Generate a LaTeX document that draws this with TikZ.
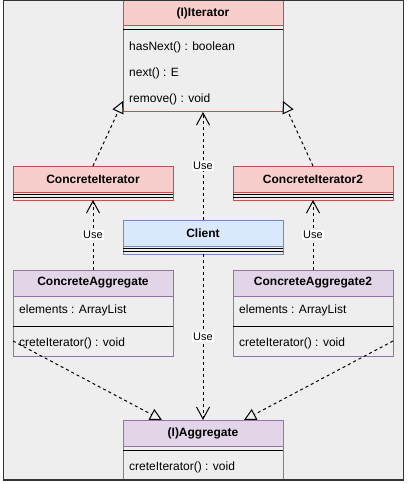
\documentclass[tikz,border=0pt]{standalone}
\usepackage{fontspec}
\setmainfont{Liberation Sans}
\usetikzlibrary{arrows.meta,calc}
\definecolor{bgG}{HTML}{EEEEEE}
\definecolor{frameC}{HTML}{333333}
\definecolor{redF}{HTML}{F8CECC}
\definecolor{redD}{HTML}{B85450}
\definecolor{bluF}{HTML}{DAE8FC}
\definecolor{bluD}{HTML}{6C8EBF}
\definecolor{purF}{HTML}{E1D5E7}
\definecolor{purD}{HTML}{9673A6}
\begin{document}
\begin{tikzpicture}[x=1pt,y=-1pt,
  cls/.style={rectangle, anchor=north west, inner sep=0pt, outer sep=0pt, minimum width=160pt, line width=1pt},
  hdr/.style={font=\fontsize{12}{14}\selectfont\bfseries},
  itm/.style={font=\fontsize{12}{14}\selectfont, anchor=west, inner sep=0pt},
  sepline/.style={black, line width=1pt},
  uselink/.style={line width=1pt, dash pattern=on 3pt off 3pt, -{Straight Barb[length=12pt,width=13pt]}},
  reallink/.style={line width=1pt, dash pattern=on 3pt off 3pt, -{Triangle[open,length=12pt,width=12pt]}},
  uselabel/.style={fill=white, inner sep=0.8pt, font=\fontsize{11}{13}\selectfont}]
\useasboundingbox (0,0) rectangle (408,484);
\fill[bgG] (3.5,0.5) rectangle (403.5,480);

% (I)Iterator
\node[cls, draw=redD, minimum height=112pt] (iter) at (123,0) {};
\node[cls, draw=redD, fill=redF, minimum height=26pt, hdr] (iterH) at (iter.north west) {(I)Iterator};
\draw[sepline] ($(iter.north west)+(0,30)$) -- ($(iter.north east)+(0,30)$);
\node[itm] (it1) at ($(iter.north west)+(6,47)$) {hasNext() : boolean};
\node[itm] (it2) at ($(iter.north west)+(6,73)$) {next() : E};
\node[itm] (it3) at ($(iter.north west)+(6,99)$) {remove() : void};

% ConcreteIterator
\node[cls, draw=redD, minimum height=34pt] (ci) at (13,166) {};
\node[cls, draw=redD, fill=redF, minimum height=26pt, hdr] (ciH) at (ci.north west) {ConcreteIterator};
\draw[sepline] ($(ci.north west)+(0,28)$) -- ($(ci.north east)+(0,28)$);
\draw[sepline] ($(ci.north west)+(0,31)$) -- ($(ci.north east)+(0,31)$);

% ConcreteIterator2
\node[cls, draw=redD, minimum height=34pt] (ci2) at (233,166) {};
\node[cls, draw=redD, fill=redF, minimum height=26pt, hdr] (ci2H) at (ci2.north west) {ConcreteIterator2};
\draw[sepline] ($(ci2.north west)+(0,28)$) -- ($(ci2.north east)+(0,28)$);
\draw[sepline] ($(ci2.north west)+(0,31)$) -- ($(ci2.north east)+(0,31)$);

% Client
\node[cls, draw=bluD, minimum height=34pt] (client) at (123,220) {};
\node[cls, draw=bluD, fill=bluF, minimum height=26pt, hdr] (clientH) at (client.north west) {Client};
\draw[sepline] ($(client.north west)+(0,28)$) -- ($(client.north east)+(0,28)$);
\draw[sepline] ($(client.north west)+(0,31)$) -- ($(client.north east)+(0,31)$);

% ConcreteAggregate
\node[cls, draw=purD, minimum height=86pt] (ca) at (13,270) {};
\node[cls, draw=purD, fill=purF, minimum height=26pt, hdr] (caH) at (ca.north west) {ConcreteAggregate};
\node[itm] (ca1) at ($(ca.north west)+(6,40)$) {elements : ArrayList};
\draw[sepline] ($(ca.north west)+(0,56)$) -- ($(ca.north east)+(0,56)$);
\node[itm] (ca2i) at ($(ca.north west)+(6,73)$) {creteIterator() : void};

% ConcreteAggregate2
\node[cls, draw=purD, minimum height=86pt] (cab) at (233,270) {};
\node[cls, draw=purD, fill=purF, minimum height=26pt, hdr] (cabH) at (cab.north west) {ConcreteAggregate2};
\node[itm] (cab1) at ($(cab.north west)+(6,40)$) {elements : ArrayList};
\draw[sepline] ($(cab.north west)+(0,56)$) -- ($(cab.north east)+(0,56)$);
\node[itm] (cab2) at ($(cab.north west)+(6,73)$) {creteIterator() : void};

% (I)Aggregate
\node[cls, draw=purD, minimum height=60pt] (agg) at (123,420) {};
\node[cls, draw=purD, fill=purF, minimum height=26pt, hdr] (aggH) at (agg.north west) {(I)Aggregate};
\draw[sepline] ($(agg.north west)+(0,30)$) -- ($(agg.north east)+(0,30)$);
\node[itm] (agg1) at ($(agg.north west)+(6,47)$) {creteIterator() : void};

% connectors
\draw[reallink] (ci.north) -- ($(iter.north west)+(0,101)$);
\draw[reallink] (ci2.north) -- ($(iter.north east)+(0,101)$);
\draw[uselink] (client.north) -- (iter.south) node[midway, uselabel] {Use};
\draw[uselink] (ca.north) -- (ci.south) node[midway, uselabel] {Use};
\draw[uselink] (cab.north) -- (ci2.south) node[midway, uselabel] {Use};
\draw[uselink] (client.south) -- (agg.north) node[midway, uselabel] {Use};
\draw[reallink] ($(ca.north west)+(0,71)$) -- ($(agg.north west)+(39,0)$);
\draw[reallink] ($(cab.north east)+(0,71)$) -- ($(agg.north east)+(-39,0)$);

% frame
\draw[frameC, line width=1.5pt] (3.5,0.5) rectangle (403.5,480);
\end{tikzpicture}
\end{document}
